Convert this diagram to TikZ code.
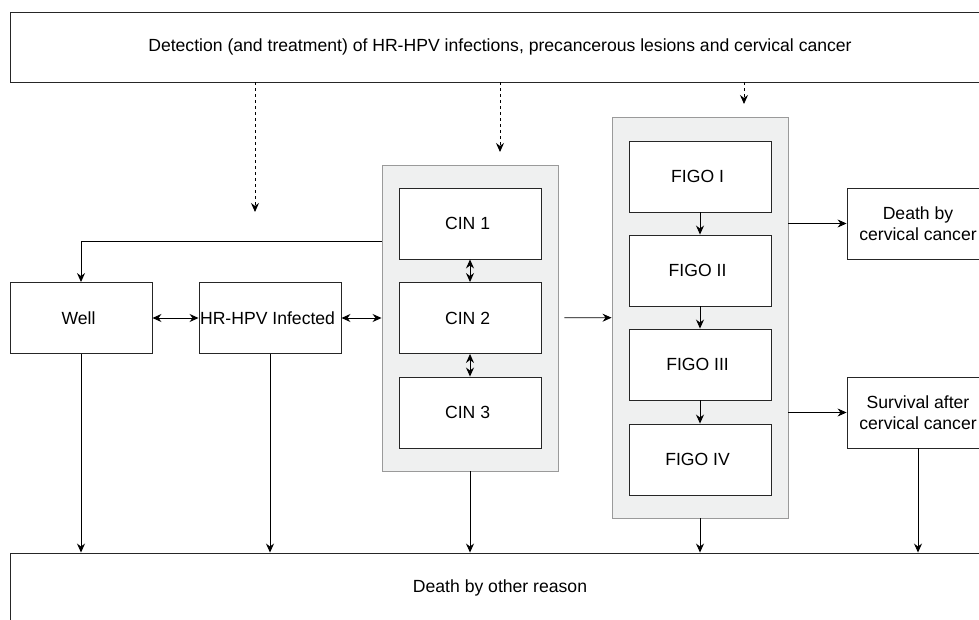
\documentclass[tikz,border=0pt]{standalone}
\usepackage{fontspec}
\setmainfont{Liberation Sans}
\usetikzlibrary{shapes,arrows.meta,calc}

\definecolor{boxgray}{HTML}{EFF0F0}
\definecolor{linegray}{HTML}{9A9A9A}

\begin{document}
\begin{tikzpicture}%[->,>=stealth,thick]
                [x=1pt,y=-1pt,every path/.style={>={Stealth[length=9pt,width=8pt,inset=3pt]},line width=0.9pt},
                 state/.style={draw=black!85,fill=white,minimum width=142pt,minimum height=71pt,inner sep=0pt,align=center,font=\fontsize{17.6}{21}\selectfont},
                 band/.style={draw=black!85,minimum width=980pt,minimum height=70pt,inner sep=0pt,font=\fontsize{17.6}{21}\selectfont},
                 group/.style={draw=linegray,fill=boxgray,inner sep=0pt}]
  \useasboundingbox (0,0) rectangle (979,620);
  \node[band]      (top) at (500,47)  { \raisebox{-3pt}{Detection (and treatment) of HR-HPV infections, precancerous lesions and cervical cancer} };
  \node[band]      (other) at (500,588)  { \raisebox{-3pt}{Death by other reason} };
  \node[group,minimum width=176pt,minimum height=306pt] (cin) at (470,318) {};
  \node[group,minimum width=176pt,minimum height=401pt] (figo) at (700,317.5) {};
  \node[state]     (well) at (81,318)  { Well };
  \node[state]     (hpv) at (270,318)  { HR-HPV Infected };
  \node[state]     (cin1) at (470,223.5)  { CIN 1 };
  \node[state]     (cin2) at (470,318)  { CIN 2 };
  \node[state]     (cin3) at (470,412.5)  { CIN 3 };
  \node[state]     (figo1) at (700,176.5)  { FIGO I };
  \node[state]     (figo2) at (700,270.5)  { FIGO II };
  \node[state]     (figo3) at (700,364.5)  { FIGO III };
  \node[state]     (figo4) at (700,459.5)  { FIGO IV };
  \node[state]     (death) at (918,223.5)  { Death by\\cervical cancer };
  \node[state]     (surv) at (918,412.5)  { Survival after\\cervical cancer };
  \coordinate      (d1) at (255,212);
  \coordinate      (d2) at (500,152);
  \coordinate      (d3) at (744,104);
  \draw[->,dashed] (d1 |- top.south) -- (d1);
  \draw[->,dashed] (d2 |- top.south) -- (d2);
  \draw[->,dashed] (d3 |- top.south) -- (d3);
  \draw[->] ($(cin.north west)!0.25!(cin.south west)$) -| (well);
  \draw[<->] (well) -- (hpv);
  \draw[<->] (hpv) -- (cin);
  \draw[<->] (cin1) -- (cin2);
  \draw[<->] (cin2) -- (cin3);
  \draw[->,shorten <=6pt] (cin) -- (figo);
  \draw[->] (figo1) -- (figo2);
  \draw[->] (figo2) -- (figo3);
  \draw[->] (figo3) -- (figo4);
  \draw[->] (figo.east |- death) -- (death);
  \draw[->] (figo.east |- surv) -- (surv);
  \draw[->] (well) -- (well |- other.north);
  \draw[->] (hpv) -- (hpv |- other.north);
  \draw[->] (cin) -- (cin |- other.north);
  \draw[->] (figo) -- (figo |- other.north);
  \draw[->] (surv) -- (surv |- other.north);
\end{tikzpicture}
\end{document}
